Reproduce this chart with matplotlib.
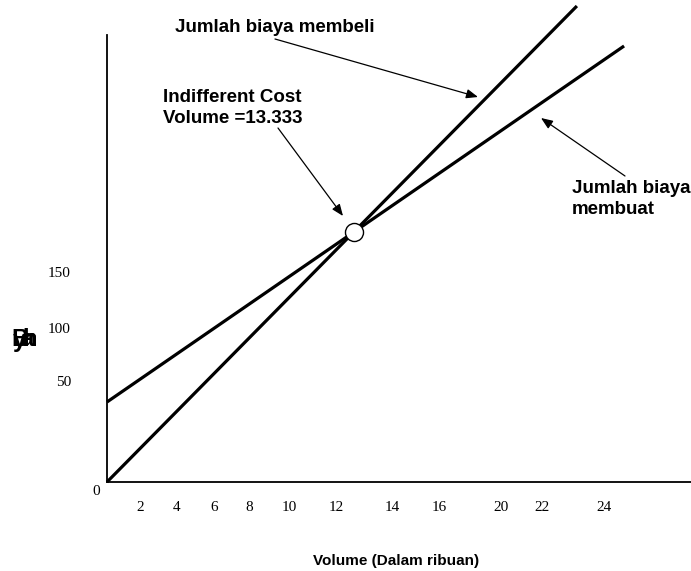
import matplotlib
matplotlib.use("Agg")
import matplotlib.pyplot as plt

# ---- data ----
volume_membeli = [0.0, 25.4]
biaya_membeli = [0.0, 476.0]
volume_membuat = [0.0, 27.95]
biaya_membuat = [80.0, 436.0]
indifferent_x = [13.333]
indifferent_y = [250.0]

xtick_pos = [1.82, 3.77, 5.78, 7.68, 9.84, 12.38, 15.41, 17.95, 21.30, 23.51, 26.86]
xtick_labels = ["2", "4", "6", "8", "10", "12", "14", "16", "20", "22", "24"]
ytick_pos = [101, 154, 210]
ytick_labels = ["50", "100", "150"]

W, H = 691, 571
fig = plt.figure(figsize=(W / 100, H / 100), dpi=100)
x0, x1 = 107, 691
y0, y1 = 482, 35
ax = fig.add_axes([x0 / W, (H - y0) / H, (x1 - x0) / W, (y0 - y1) / H])
ax.set_xlim(0, (x1 - x0) / 18.5)
ax.set_ylim(0, y0 - y1)

for s in ["top", "right"]:
    ax.spines[s].set_visible(False)
for s in ["left", "bottom"]:
    ax.spines[s].set_linewidth(1.3)
    ax.spines[s].set_color("black")

serif = "Liberation Serif"
sans = "Liberation Sans"

ax.set_xticks(xtick_pos)
ax.set_xticklabels(xtick_labels, family=serif, fontsize=11)
ax.set_yticks(ytick_pos)
ax.set_yticklabels(ytick_labels, family=serif, fontsize=11)
ax.tick_params(axis="x", length=0, pad=13.5)
ax.tick_params(axis="y", length=0, pad=26)

ax.annotate("0", xy=(0, 0), xytext=(-8, -6.5), textcoords="offset points",
            ha="center", va="center", family=serif, fontsize=11)

ax.plot(volume_membeli, biaya_membeli, color="black", lw=2.3, clip_on=False,
        solid_capstyle="butt")
ax.plot(volume_membuat, biaya_membuat, color="black", lw=2.3, clip_on=False,
        solid_capstyle="butt")
ax.plot(indifferent_x, indifferent_y, marker="o", ms=13, mfc="white", mec="black",
        mew=1.0, clip_on=False, zorder=5)

def px(xp, yp):
    return ((xp - x0) / 18.5, y0 - yp)

arrow = dict(arrowstyle="-|>,head_length=0.7,head_width=0.28", color="black", lw=0.9,
             shrinkA=0, shrinkB=0)

ax.annotate("", xy=px(478, 97), xytext=px(275, 39), arrowprops=arrow,
            annotation_clip=False)
ax.annotate("", xy=px(343, 216), xytext=px(278, 128), arrowprops=arrow,
            annotation_clip=False)
ax.annotate("", xy=px(541, 118), xytext=px(625, 176), arrowprops=arrow,
            annotation_clip=False)

fig.text(175 / W, 1 - 27 / H, "Jumlah biaya membeli", family=sans, weight="bold",
         fontsize=13.5, ha="left", va="center")
fig.text(163 / W, 1 - 108 / H, "Indifferent Cost\nVolume =13.333", family=sans,
         weight="bold", fontsize=13.5, ha="left", va="center", linespacing=1.3)
fig.text(572 / W, 1 - 199 / H, "Jumlah biaya\nmembuat", family=sans,
         weight="bold", fontsize=13.5, ha="left", va="center", linespacing=1.3)
fig.text(396 / W, 1 - 561 / H, "Volume (Dalam ribuan)", family=sans,
         weight="bold", fontsize=11, ha="center", va="center")

# overlapped glyphs of the y-axis label
for g, gx in [("B", 20), ("y", 19), ("a", 27), ("h", 30), ("n", 30)]:
    fig.text(gx / W, 1 - 340 / H, g, family=sans, weight="bold", fontsize=17,
             ha="center", va="center")

fig.savefig("out.png", dpi=100)
